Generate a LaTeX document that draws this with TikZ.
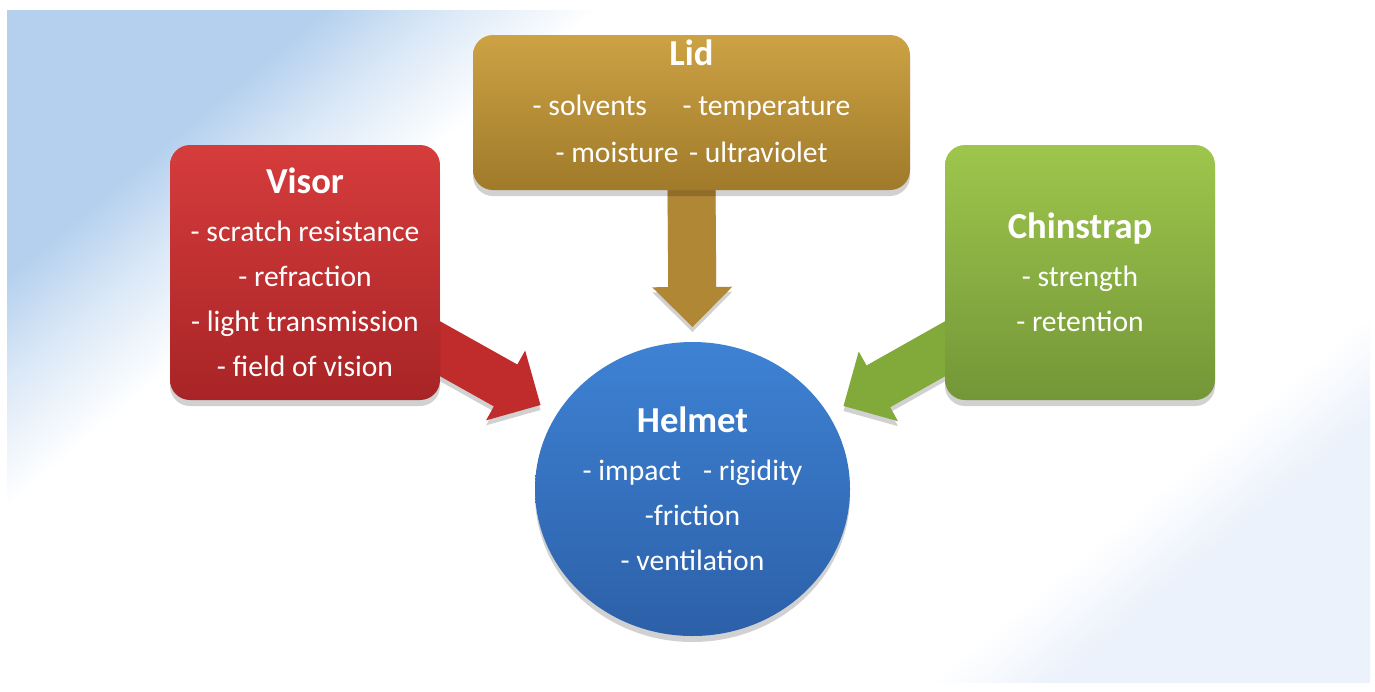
\documentclass[tikz,border=0pt]{standalone}
\usepackage{fontspec}
\setmainfont{Carlito}
\usepackage{xcolor}
\usetikzlibrary{calc}
\usetikzlibrary{shapes.geometric}
\usetikzlibrary{shadows}

\definecolor{lidtop}{RGB}{204,162,68}
\definecolor{lidbot}{RGB}{160,122,42}
\definecolor{lidarrow}{RGB}{176,135,52}
\definecolor{visortop}{RGB}{214,60,60}
\definecolor{visorbot}{RGB}{168,36,38}
\definecolor{visorarrow}{RGB}{192,44,44}
\definecolor{chintop}{RGB}{158,198,76}
\definecolor{chinbot}{RGB}{116,150,56}
\definecolor{chinarrow}{RGB}{130,170,58}
\definecolor{helmtop}{RGB}{62,130,212}
\definecolor{helmbot}{RGB}{44,96,168}
\definecolor{bgblue}{RGB}{180,208,238}
\definecolor{bgblue2}{RGB}{236,242,251}

\pgfdeclarehorizontalshading{bgfade}{100bp}{color(0bp)=(bgblue); color(25bp)=(bgblue);
  color(29bp)=(bgblue!50!white); color(34bp)=(white); color(71bp)=(white);
  color(75bp)=(bgblue2); color(100bp)=(bgblue2)}

\pgfdeclarelayer{bg}
\pgfdeclarelayer{back}
\pgfsetlayers{bg,back,main}

\newcommand{\boxtitle}[1]{{\fontsize{18.3}{22.5}\selectfont\bfseries #1}}
% fat arrow from #1 to #2
\newcommand{\blockarrow}[3]{%
  \coordinate (ha) at ($(#2)!20pt!(#1)$);
  \fill[#3, drop shadow={shadow xshift=0pt, shadow yshift=-2.5pt, opacity=0.18, fill=black}]
    ($(#1)!12pt!90:(#2)$) -- ($(ha)!12pt!90:(#2)$) -- ($(ha)!20pt!90:(#2)$) -- (#2)
    -- ($(ha)!20pt!-90:(#2)$) -- ($(ha)!12pt!-90:(#2)$) -- ($(#1)!12pt!-90:(#2)$) -- cycle;}

\begin{document}
\begin{tikzpicture}[x=0.5pt, y=0.5pt,
    part/.style={rectangle, rounded corners=10pt, inner sep=0pt, outer sep=0pt,
      minimum width=135pt, minimum height=127.5pt, align=center, text=white,
      font=\fontsize{14.8}{22.5}\selectfont,
      drop shadow={shadow xshift=0pt, shadow yshift=-3pt, opacity=0.18, fill=black}},
    core/.style={part, ellipse, minimum width=157.5pt, minimum height=147pt,
      top color=helmtop, bottom color=helmbot}]
  \useasboundingbox (0,0) rectangle (1375,-691);

  % the four parts
  \node[core] (helmet) at (692.5,-489) {\boxtitle{Helmet}\\[1.5pt]
    - impact\hspace{0.75em}- rigidity\\ -friction\\ - ventilation};
  \node[part, minimum width=218.5pt, minimum height=77.5pt,
    top color=lidtop, bottom color=lidbot] (lid) at (691.5,-112.5)
    {\boxtitle{Lid}\\[2.5pt] - solvents\hspace{1.2em}- temperature\\[1pt]
     - moisture\hspace{0.35em}- ultraviolet\rule[-11pt]{0pt}{11pt}};
  \node[part, top color=visortop, bottom color=visorbot] (visor) at (305,-272.5)
    {\boxtitle{Visor}\\[1.5pt] - scratch resistance\\ - refraction\\
     - light transmission\\ - field of vision};
  \node[part, top color=chintop, bottom color=chinbot] (chin) at (1080,-272.5)
    {\boxtitle{Chinstrap}\\[1.5pt] - strength\\ - retention};

  % arrows into the helmet
  \coordinate (lidfrom) at ($(lid.south)+(0,10)$);
  \coordinate (lidto) at ($(helmet.north)+(0,15)$);
  \coordinate (visorfrom) at ($(visor.east)+(-20,-65)$);
  \coordinate (visorto) at ($(helmet.center)+(-152,84)$);
  \coordinate (chinfrom) at ($(chin.west)+(20,-65)$);
  \coordinate (chinto) at ($(helmet.center)+(151,83)$);
  \begin{pgfonlayer}{back}
    \blockarrow{lidfrom}{lidto}{lidarrow}
    \blockarrow{visorfrom}{visorto}{visorarrow}
    \blockarrow{chinfrom}{chinto}{chinarrow}
  \end{pgfonlayer}

  % page background
  \begin{pgfonlayer}{bg}
    \fill[white] (0,0) rectangle (1375,-691);
    \shade[shading=bgfade, shading angle=-50] (7,-10) rectangle (1370,-682);
  \end{pgfonlayer}
\end{tikzpicture}
\end{document}
